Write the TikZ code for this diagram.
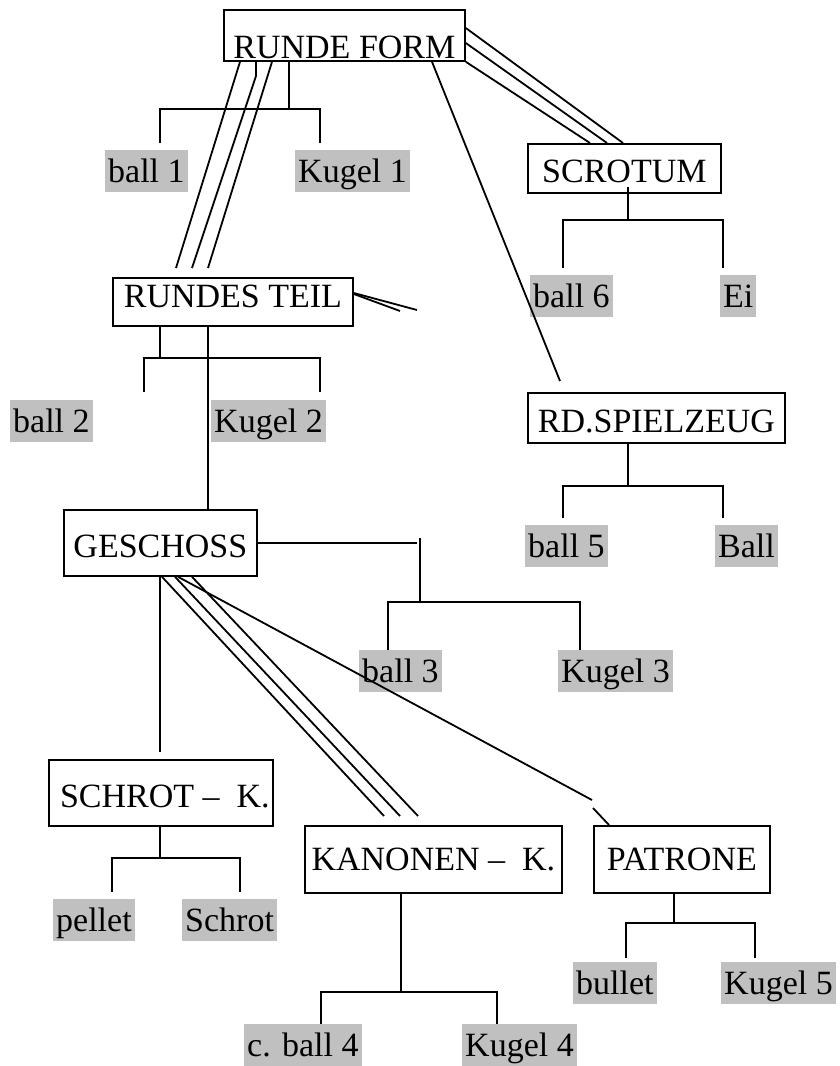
\documentclass[tikz,border=0pt]{standalone}
\usepackage{fontspec}
\setmainfont{Liberation Serif}
\definecolor{lblgray}{HTML}{C0C0C0}
\tikzset{
  bigfont/.style={font=\fontsize{34}{40}\selectfont},
  box/.style={draw, line width=1.8pt, inner sep=0pt, anchor=north west, bigfont},
  lbl/.style={fill=lblgray, inner xsep=3pt, inner ysep=0pt, text height=32pt, text depth=10pt, anchor=north west, bigfont},
  ln/.style={line width=1.8pt}
}
\begin{document}
\begin{tikzpicture}[x=1pt,y=-1pt]
\useasboundingbox (0,0) rectangle (840,1066);
% boxes
\node[box, minimum width=241pt, text height=49pt, text depth=2pt] (rf) at (223,9) {RUNDE FORM};
\node[box, minimum width=193pt, text height=39pt, text depth=10pt] (sc) at (527,143) {SCROTUM};
\node[box, minimum width=257pt, text height=40pt, text depth=10pt] (sp) at (527,392) {RD.SPIELZEUG};
\node[box, minimum width=240pt, text height=30pt, text depth=18pt] (rt) at (112,277) {RUNDES TEIL};
\node[box, minimum width=193pt, text height=48pt, text depth=18pt] (ge) at (63,509) {GESCHOSS};
\node[box, minimum width=224pt, text height=48pt, text depth=18pt] (sk) at (48,759) {\hspace{8pt}SCHROT – \ K.};
\node[box, minimum width=257pt, text height=45pt, text depth=22pt] (ka) at (304,825) {KANONEN – \ K.};
\node[box, minimum width=176pt, text height=45pt, text depth=22pt] (pa) at (593,825) {PATRONE};
% labels
\node[lbl] (b1) at (105,150) {ball 1};
\node[lbl] (k1) at (295,150) {Kugel 1};
\node[lbl] (b6) at (530,275) {ball 6};
\node[lbl] (ei) at (720,275) {Ei};
\node[lbl] (b5) at (525,525) {ball 5};
\node[lbl] (bl) at (715,525) {Ball};
\node[lbl] (b2) at (10,400) {ball 2};
\node[lbl] (k2) at (211,400) {Kugel 2};
\node[lbl] (b3) at (359,650) {ball 3};
\node[lbl] (k3) at (558,650) {Kugel 3};
\node[lbl] (pe) at (53,899) {pellet};
\node[lbl] (sr) at (182,899) {Schrot};
\node[lbl] (c4) at (244,1024) {c. ball 4};
\node[lbl] (k4) at (462,1024) {Kugel 4};
\node[lbl] (bu) at (573,962) {bullet};
\node[lbl] (k5) at (721,962) {Kugel 5};
% free-end coordinates
\coordinate (rtA) at (176,268);
\coordinate (rtB) at (192,268);
\coordinate (rtC) at (208,268);
\coordinate (st1) at (417,310);
\coordinate (st2) at (400,311);
\coordinate (gej) at (417,543);
\coordinate (kaA) at (384,816);
\coordinate (kaB) at (400,816);
\coordinate (kaC) at (418,816);
\coordinate (paA) at (592,800);
\coordinate (paB) at (593,808);
\coordinate (spA) at (560,381);
% RUNDE FORM tree
\draw[ln] (289,0 |- rf.south) -- (289,109);
\draw[ln] (160,143) -- (160,109) -- (320,109) -- (320,143);
\draw[ln] (240,0 |- rf.south) -- (rtA);
\draw[ln] (256,0 |- rf.south) -- (256,76) -- (rtB);
\draw[ln] (272,0 |- rf.south) -- (rtC);
\draw[ln] (rf.east |- 0,28) -- (623,0 |- sc.north);
\draw[ln] (rf.east |- 0,43) -- (607,0 |- sc.north);
\draw[ln] (rf.south east) -- (590,0 |- sc.north);
\draw[ln] (432,0 |- rf.south) -- (spA);
% SCROTUM tree
\draw[ln] (628,187) -- (628,220);
\draw[ln] (563,268) -- (563,220) -- (723,220) -- (723,268);
% RD.SPIELZEUG tree
\draw[ln] (628,0 |- sp.south) -- (628,486);
\draw[ln] (563,518) -- (563,486) -- (723,486) -- (723,518);
% RUNDES TEIL
\draw[ln] (rt.east |- 0,293) -- (st1);
\draw[ln] (rt.east |- 0,294) -- (st2);
\draw[ln] (160,0 |- rt.south) -- (160,358);
\draw[ln] (144,392) -- (144,358) -- (320,358) -- (320,392);
\draw[ln] (208,0 |- rt.south) -- (208,0 |- ge.north);
% GESCHOSS
\draw[ln] (ge.east |- 0,543) -- (gej);
\draw[ln] (420,538) -- (420,602);
\draw[ln] (388,650) -- (388,602) -- (580,602) -- (580,650);
\draw[ln] (160,0 |- ge.south) -- (160,752);
\draw[ln] (162,0 |- ge.south) -- (kaA);
\draw[ln] (175,0 |- ge.south) -- (kaB);
\draw[ln] (192,0 |- ge.south) -- (kaC);
\draw[ln] (178,0 |- ge.south) -- (paA);
\draw[ln] (paB) -- (609,0 |- pa.north);
% SCHROT tree
\draw[ln] (160,0 |- sk.south) -- (160,858);
\draw[ln] (112,892) -- (112,858) -- (240,858) -- (240,892);
% KANONEN tree
\draw[ln] (401,0 |- ka.south) -- (401,992);
\draw[ln] (321,1024) -- (321,992) -- (497,992) -- (497,1024);
% PATRONE tree
\draw[ln] (674,0 |- pa.south) -- (674,923);
\draw[ln] (626,958) -- (626,923) -- (755,923) -- (755,958);
\end{tikzpicture}
\end{document}
